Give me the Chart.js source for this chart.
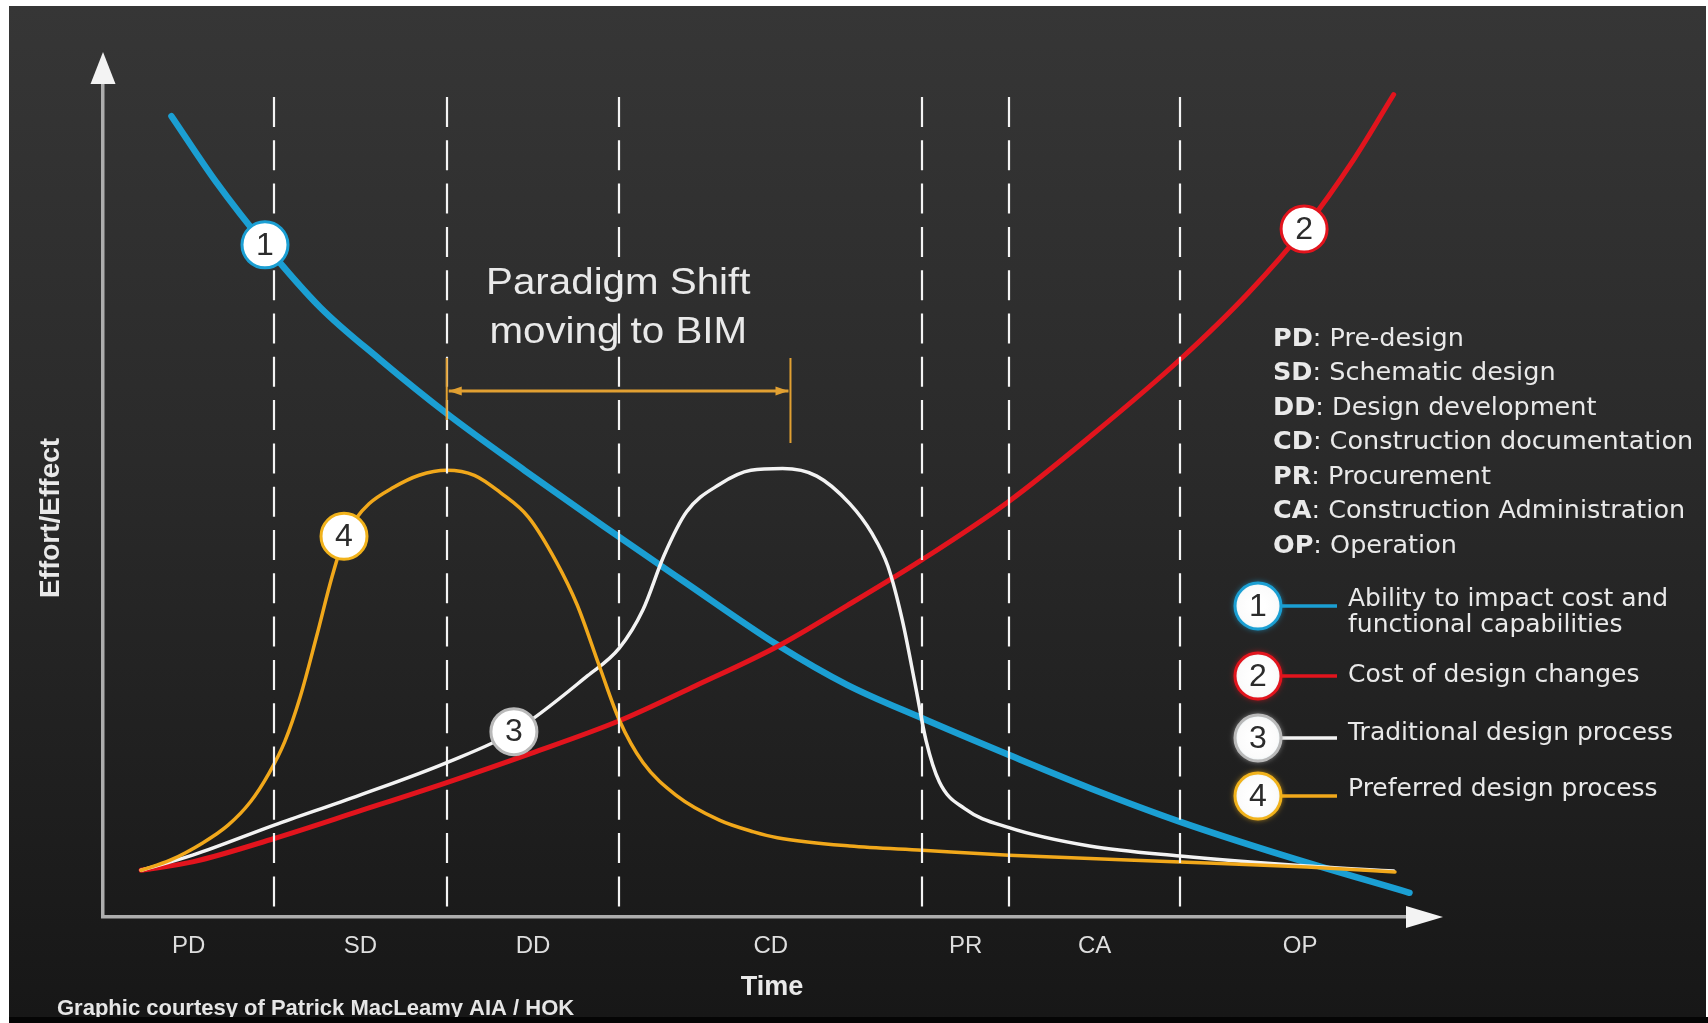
<!DOCTYPE html>
<html>
<head>
<meta charset="utf-8">
<title>MacLeamy curve</title>
<script src="https://cdn.jsdelivr.net/npm/chart.js@4/dist/chart.umd.min.js"></script>
<style>
  html, body { margin: 0; padding: 0; background: #ffffff; overflow: hidden; }
  canvas { display: block; }
</style>
</head>
<body>
<canvas id="chart" width="1708" height="1023"></canvas>
<script>
// Project phases along the time axis (boundaries in time units, 0..100)
const phaseLabels = ['PD', 'SD', 'DD', 'CD', 'PR', 'CA', 'OP'];
const phaseNames = ['Pre-design', 'Schematic design', 'Design development', 'Construction documentation',
                    'Procurement', 'Construction Administration', 'Operation'];
const phaseBounds = [0, 13, 26.1, 39.2, 62.2, 68.8, 81.8, 100];
const phaseCenters = phaseLabels.map((_, i) => (phaseBounds[i] + phaseBounds[i + 1]) / 2);

// 1: Ability to impact cost and functional capabilities
const timeAbility = [5.2, 8.6, 12.3, 16.5, 21, 26.1, 32, 38, 44, 51.2, 56.5, 62.2, 68.8, 75, 81.8, 90, 99.2];
const ability     = [95.9, 88, 80.5, 73, 66.8, 60.3, 53.5, 46.8, 40.3, 32.6, 27.8, 23.8, 19.4, 15.4, 11.4, 7.2, 2.9];

// 2: Cost of design changes
const timeCost = [2.9, 6.8, 13, 19.5, 26.1, 32.5, 39.2, 45, 51.2, 56.5, 62.2, 68.8, 75, 81.8, 87, 91.2, 95, 98];
const cost     = [5.6, 6.6, 9.4, 12.7, 16.1, 19.6, 23.5, 27.7, 32.4, 37.3, 42.8, 49.8, 57.6, 66.8, 74.8, 82.4, 90.8, 98.5];

// 3: Traditional design process
const timeTraditional = [2.9, 6.8, 13, 19.5, 26.1, 31.2, 36.8, 39.2, 41, 42.6, 44.3, 46.8, 49.2, 51.6, 54.2, 56.7, 58.4,
                         59.6, 60.7, 61.7, 62.5, 63.5, 65.4, 68.8, 74.9, 81.8, 91.4, 98];
const traditional     = [5.6, 7.4, 11.0, 14.6, 18.5, 22.2, 28.9, 32.2, 36.8, 43.3, 48.5, 51.8, 53.5, 53.7, 52.8, 49.5, 45.9,
                         42.0, 35.5, 27.6, 21.1, 16.2, 13.0, 10.7, 8.5, 7.3, 6.1, 5.5];

// 4: Preferred design process
const timePreferred = [2.9, 5.1, 7.6, 9.5, 11.2, 12.6, 13.8, 15, 16.2, 17.4, 18.3, 19.2, 20.2, 22, 24, 26.1, 28.2, 30.2,
                       32.3, 34.4, 36, 37.7, 39.2, 41, 43.5, 46.8, 49.4, 51.2, 56.7, 62.2, 68.8, 81.8, 91.4, 98.1];
const preferred     = [5.6, 6.8, 8.9, 11.0, 13.8, 17.2, 21.0, 26.5, 33.5, 40.8, 45.3, 47.7, 49.5, 51.4, 52.9, 53.5, 52.9, 50.8,
                       47.9, 42.6, 37.4, 30.0, 23.6, 18.5, 14.6, 11.6, 10.2, 9.5, 8.5, 8.0, 7.4, 6.6, 6.0, 5.4];

// Numbered markers sitting on each curve
const markerDigits = ['1', '2', '3', '4'];
const markerTime   = [12.3, 91.2, 31.2, 18.3];
const markerValue  = [80.5, 82.4, 22.2, 45.6];

// Span of the "paradigm shift" (time units) and its height on the effort axis
const shiftSpan  = [26.1, 52.2];
const shiftLevel = 63;

const seriesLabels = [
  ['Ability to impact cost and', 'functional capabilities'],
  ['Cost of design changes'],
  ['Traditional design process'],
  ['Preferred design process']
];

const COLORS = ['#1b9fd3', '#e2141d', '#f3f3f3', '#f1a81b'];
const RINGS  = ['#1b9fd3', '#e2141d', '#b9b9b9', '#f1b21b'];
const TEXT   = '#e9e9e9';

const pts = (xs, ys) => xs.map((x, i) => ({ x, y: ys[i] }));

const curve = (label, xs, ys, color, width) => ({
  type: 'line',
  label,
  data: pts(xs, ys),
  borderColor: color,
  borderWidth: width,
  pointRadius: 0,
  pointHoverRadius: 0,
  fill: false,
  cubicInterpolationMode: 'monotone',
  borderCapStyle: 'round',
  borderJoinStyle: 'round'
});

function drawBadge(ctx, x, y, r, ring, digit) {
  ctx.save();
  const g = ctx.createRadialGradient(x, y, r * 0.3, x, y, r);
  g.addColorStop(0, '#ffffff');
  g.addColorStop(0.8, '#fbfbfb');
  g.addColorStop(1, '#e9f3f6');
  ctx.beginPath();
  ctx.arc(x, y, r, 0, Math.PI * 2);
  ctx.shadowColor = ring;
  ctx.shadowBlur = 6;
  ctx.fillStyle = g;
  ctx.fill();
  ctx.shadowBlur = 0;
  ctx.lineWidth = 3;
  ctx.strokeStyle = ring;
  ctx.stroke();
  ctx.fillStyle = '#2c2c2c';
  ctx.font = '32px "Liberation Sans", Arial, sans-serif';
  ctx.textAlign = 'center';
  ctx.textBaseline = 'middle';
  ctx.fillText(digit, x, y + 1);
  ctx.restore();
}

const decor = {
  id: 'decor',
  beforeDraw(chart) {
    const { ctx, width, height } = chart;
    ctx.save();
    ctx.fillStyle = '#ffffff';
    ctx.fillRect(0, 0, width, height);
    const g = ctx.createLinearGradient(0, 6, 0, 1017);
    g.addColorStop(0, '#363636');
    g.addColorStop(0.45, '#2a2a2a');
    g.addColorStop(1, '#171717');
    ctx.fillStyle = g;
    ctx.fillRect(9, 6, 1697, 1011);
    ctx.restore();
  },
  // phase boundaries go over the curves but under the numbered markers
  afterDatasetDraw(chart, args) {
    if (args.index !== 1) return;
    const { ctx, chartArea, scales: { x } } = chart;
    ctx.save();
    ctx.strokeStyle = '#f4f4f4';
    ctx.lineWidth = 2.2;
    ctx.setLineDash([30, 13.3]);
    const top = chartArea.top + 15, bottom = chartArea.bottom - 10;
    phaseBounds.slice(1, -1).forEach(b => {
      const px = Math.round(x.getPixelForValue(b));
      ctx.beginPath();
      ctx.moveTo(px, top);
      ctx.lineTo(px, bottom);
      ctx.stroke();
    });
    ctx.restore();
  },
  afterDatasetsDraw(chart) {
    const { ctx, chartArea: ca, scales: { x, y } } = chart;
    ctx.save();

    // digits on the curve markers
    const meta = chart.getDatasetMeta(0);
    ctx.fillStyle = '#2c2c2c';
    ctx.font = '32px "Liberation Sans", Arial, sans-serif';
    ctx.textAlign = 'center';
    ctx.textBaseline = 'middle';
    meta.data.forEach((p, i) => ctx.fillText(markerDigits[i], p.x, p.y + 1));

    // axis arrowheads
    ctx.fillStyle = '#f3f3f3';
    ctx.beginPath();
    ctx.moveTo(ca.left, 52);
    ctx.lineTo(ca.left - 12.5, 84);
    ctx.lineTo(ca.left + 12.5, 84);
    ctx.closePath();
    ctx.fill();
    ctx.beginPath();
    ctx.moveTo(1443, ca.bottom);
    ctx.lineTo(1406, ca.bottom - 11);
    ctx.lineTo(1406, ca.bottom + 11);
    ctx.closePath();
    ctx.fill();

    // paradigm shift bracket
    const bx0 = x.getPixelForValue(shiftSpan[0]);
    const bx1 = x.getPixelForValue(shiftSpan[1]);
    const by = y.getPixelForValue(shiftLevel);
    ctx.strokeStyle = '#e1a032';
    ctx.fillStyle = '#e1a032';
    ctx.lineWidth = 3;
    ctx.beginPath();
    ctx.moveTo(bx0 + 2, by); ctx.lineTo(bx1 - 2, by);
    ctx.stroke();
    ctx.lineWidth = 2;
    ctx.beginPath();
    ctx.moveTo(bx0, by - 33); ctx.lineTo(bx0, by + 29);
    ctx.moveTo(bx1, by - 33); ctx.lineTo(bx1, by + 52);
    ctx.stroke();
    [[bx0 + 2, 1], [bx1 - 2, -1]].forEach(([tx, dir]) => {
      ctx.beginPath();
      ctx.moveTo(tx, by);
      ctx.lineTo(tx + dir * 13, by - 4.5);
      ctx.lineTo(tx + dir * 13, by + 4.5);
      ctx.closePath();
      ctx.fill();
    });

    // annotation text, set slightly wide
    ctx.fillStyle = TEXT;
    ctx.textAlign = 'center';
    ctx.textBaseline = 'alphabetic';
    ctx.font = '36px "Liberation Sans", Arial, sans-serif';
    const tx = x.getPixelForValue(phaseBounds[3]) - 1;
    ctx.save();
    ctx.translate(tx, 0);
    ctx.scale(1.12, 1);
    ctx.fillText('Paradigm Shift', 0, 294);
    ctx.fillText('moving to BIM', 0, 343);
    ctx.restore();

    // axis titles
    ctx.font = 'bold 27px "Liberation Sans", Arial, sans-serif';
    ctx.textBaseline = 'middle';
    ctx.fillText('Time', 772, 988);
    ctx.save();
    ctx.translate(51, 518);
    ctx.rotate(-Math.PI / 2);
    ctx.font = 'bold 28px "Liberation Sans", Arial, sans-serif';
    ctx.fillText('Effort/Effect', 0, 0);
    ctx.restore();

    // phase abbreviations
    ctx.textAlign = 'left';
    ctx.textBaseline = 'middle';
    phaseLabels.forEach((code, i) => {
      const ly = 339 + i * 34.5;
      ctx.font = 'bold 25.5px "DejaVu Sans", sans-serif';
      ctx.fillText(code, 1273, ly);
      const w = ctx.measureText(code).width;
      ctx.font = '25.5px "DejaVu Sans", sans-serif';
      ctx.fillText(': ' + phaseNames[i], 1273 + w, ly);
    });

    // series key
    const keyY = [606, 676, 738, 796];
    const textY = [[599, 625], [675], [733], [789]];
    keyY.forEach((ky, i) => {
      ctx.strokeStyle = COLORS[i];
      ctx.lineWidth = 3.5;
      ctx.beginPath();
      ctx.moveTo(1280, ky); ctx.lineTo(1337, ky);
      ctx.stroke();
      drawBadge(ctx, 1258, ky, 23, RINGS[i], markerDigits[i]);
      ctx.fillStyle = TEXT;
      ctx.font = '25px "DejaVu Sans", sans-serif';
      ctx.textAlign = 'left';
      ctx.textBaseline = 'middle';
      seriesLabels[i].forEach((t, j) => ctx.fillText(t, 1348, textY[i][j]));
    });

    // credit line, clipped by the bottom strip
    ctx.font = 'bold 22px "Liberation Sans", Arial, sans-serif';
    ctx.textBaseline = 'alphabetic';
    ctx.fillStyle = '#e6e6e6';
    ctx.fillText('Graphic courtesy of Patrick MacLeamy AIA / HOK', 57, 1015);
    ctx.fillStyle = '#050505';
    ctx.fillRect(9, 1017, 1699, 6);

    ctx.restore();
  }
};

new Chart(document.getElementById('chart'), {
  type: 'line',
  data: {
    datasets: [
      {
        type: 'scatter',
        label: 'markers',
        data: pts(markerTime, markerValue),
        pointRadius: 23,
        pointHoverRadius: 23,
        pointBackgroundColor: '#ffffff',
        pointBorderColor: RINGS,
        pointBorderWidth: 3
      },
      curve('Preferred design process', timePreferred, preferred, COLORS[3], 3.5),
      curve('Traditional design process', timeTraditional, traditional, COLORS[2], 3.5),
      curve('Cost of design changes', timeCost, cost, COLORS[1], 5),
      curve('Ability to impact cost and functional capabilities', timeAbility, ability, COLORS[0], 6.5)
    ]
  },
  options: {
    responsive: false,
    animation: false,
    devicePixelRatio: 1,
    events: [],
    layout: { padding: { left: 23, right: 288, top: 82, bottom: 0 } },
    plugins: { legend: { display: false }, tooltip: { enabled: false } },
    scales: {
      x: {
        type: 'linear',
        min: 0,
        max: 100,
        position: 'bottom',
        grid: { display: false, drawTicks: false },
        border: { display: true, color: '#adadad', width: 3.5 },
        afterBuildTicks: s => { s.ticks = phaseCenters.map(v => ({ value: v })); },
        afterFit: s => { s.height = 106; },
        ticks: {
          padding: 15,
          autoSkip: false,
          maxRotation: 0,
          color: '#dedede',
          font: { family: '"Liberation Sans", Arial, sans-serif', size: 24 },
          callback: (v, i) => phaseLabels[i]
        }
      },
      y: {
        type: 'linear',
        min: 0,
        max: 100,
        grid: { display: false, drawTicks: false },
        border: { display: true, color: '#adadad', width: 3.5 },
        ticks: { display: false },
        afterFit: s => { s.width = 80; }
      }
    }
  },
  plugins: [decor]
});
</script>
</body>
</html>
